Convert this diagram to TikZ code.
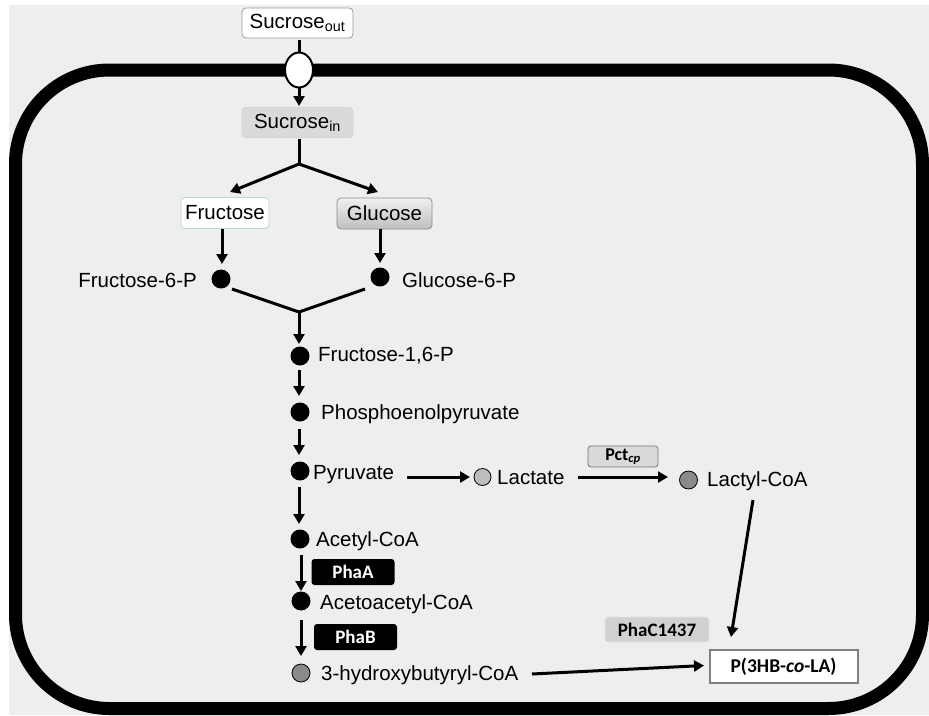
\documentclass[tikz,border=0pt]{standalone}
\usepackage{fontspec}
\setmainfont{Liberation Sans}
\newfontfamily\calfont{Carlito}
\usetikzlibrary{arrows.meta,shapes.geometric}
\definecolor{bg}{HTML}{EEEEEE}
\definecolor{boxgray}{HTML}{DADADA}
\definecolor{lightdot}{HTML}{BDBDBD}
\definecolor{darkdot}{HTML}{8A8A8A}
\definecolor{tealline}{HTML}{BCD6D6}
\begin{document}
\begin{tikzpicture}[x=1pt,y=-1pt,
  lbl/.style={font=\fontsize{20.5}{24}\selectfont, inner sep=0pt, anchor=west},
  dotb/.style={circle, fill=black, minimum size=19pt, inner sep=0pt},
  dotl/.style={circle, draw=black, line width=0.8pt, fill=lightdot, minimum size=17pt, inner sep=0pt},
  dotd/.style={circle, draw=black, line width=0.8pt, fill=darkdot, minimum size=18pt, inner sep=0pt},
  arr/.style={line width=3pt, -{Triangle[length=10pt,width=11pt]}},
  ln/.style={line width=3pt},
  sbox/.style={rounded corners=4pt, minimum height=30pt, inner sep=0pt, font=\fontsize{20.5}{24}\selectfont},
  enz/.style={rounded corners=3pt, inner sep=0pt, font=\calfont\bfseries\fontsize{19}{22}\selectfont},
  blk/.style={enz, fill=black, text=white, minimum width=83pt, minimum height=26pt}
]
\useasboundingbox (0,0) rectangle (929,715);
\begin{scope}
\clip (0,0) rectangle (929,715);
\fill[bg] (9,5) rectangle (929,715);
% membrane
\draw[line width=13pt, rounded corners=94pt] (15.5,70) rectangle (922.5,708.5);
\end{scope}

% sucrose
\node[sbox, draw=gray!80, fill=white, line width=0.8pt, minimum width=111pt] (sout) at (297.5,23) {Sucrose\textsubscript{out}};
\node[sbox, draw=gray!35, fill=boxgray, line width=0.8pt, minimum width=111pt] (sin) at (297.5,122.5) {Sucrose\textsubscript{in}};
\coordinate (tp) at (299,40);
\coordinate (tq) at (299,106);
\draw[arr] (tp) -- (tq);
\node[ellipse, draw=black, fill=white, line width=2pt, minimum width=28pt, minimum height=35pt, inner sep=0pt] (trans) at (299,70) {};

% branch
\coordinate (br) at (299,164);
\draw[ln] (299,139) -- (br);
\node[sbox, draw=tealline, fill=white, line width=0.8pt, minimum width=88pt, minimum height=31pt] (fru) at (225,213) {Fructose};
\node[sbox, draw=gray!90, top color=gray!12, bottom color=gray!50, line width=0.8pt, minimum width=95pt, minimum height=31pt] (glu) at (384.5,213.5) {Glucose};
\draw[arr] (br) -- (230,192);
\draw[arr] (br) -- (378,192);

% 6-P
\node[dotb] (f6p) at (221,279) {};
\node[dotb] (g6p) at (380,277) {};
\node[lbl, anchor=east] (f6pl) at (197,280) {Fructose-6-P};
\node[lbl] (g6pl) at (402,280) {Glucose-6-P};
\draw[arr] (222,229) -- (222,264);
\draw[arr] (380,229) -- (380,263);
\coordinate (j) at (299,312);
\draw[ln] (232,289) -- (j) -- (365,289);

% main chain
\node[dotb] (f16p) at (300,356) {};
\node[lbl] (f16pl) at (318,356) {Fructose-1,6-P};
\node[dotb] (pep) at (300,412) {};
\node[lbl] (pepl) at (321,414) {Phosphoenolpyruvate};
\node[dotb] (pyr) at (300,471) {};
\node[lbl] (pyrl) at (313,475) {Pyruvate};
\node[dotb] (acc) at (300,539) {};
\node[lbl] (accl) at (316,541) {Acetyl-CoA};
\node[dotb] (aac) at (301,601) {};
\node[lbl] (aacl) at (320,604) {Acetoacetyl-CoA};
\node[dotd] (hb) at (301,673) {};
\node[lbl] (hbl) at (321,675) {3-hydroxybutyryl-CoA};

\draw[arr] (j) -- (299,344);
\draw[arr] (299,370) -- (299,396);
\draw[arr] (299,429) -- (299,455);
\draw[arr] (299,487) -- (299,524);
\draw[arr] (301,555) -- (301,591);
\draw[arr] (301,620) -- (301,656);

\node[blk] (phaa) at (353,572) {PhaA};
\node[blk] (phab) at (355.5,637) {PhaB};

% lactate branch
\node[dotl] (lac) at (482.5,477) {};
\node[lbl] (lacl) at (497,478) {Lactate};
\node[dotd] (lcoa) at (688.5,480) {};
\node[lbl] (lcoal) at (707,481) {Lactyl-CoA};
\draw[arr] (407,477) -- (470,477);
\draw[arr] (578,477) -- (668,477);
\node[enz, draw=gray!90!black, fill=boxgray, line width=0.8pt, minimum width=70pt, minimum height=21pt, font=\calfont\bfseries\fontsize{18}{20}\selectfont] (pct) at (623,456.5) {Pct\textsubscript{\itshape cp}};

% polymer
\node[enz, fill=boxgray!90!gray, draw=gray!20, line width=0.6pt, minimum width=104pt, minimum height=25pt] (phac) at (657,629.5) {PhaC1437};
\node[draw=gray, line width=2pt, fill=white, minimum width=148pt, minimum height=33pt, inner sep=0pt, font=\calfont\bfseries\fontsize{19.5}{22}\selectfont] (poly) at (783.5,666.5) {P(3HB-\textit{co}-LA)};
\draw[arr] (753,500) -- (731,637);
\draw[arr] (532,674) -- (704,665.5);
\end{tikzpicture}
\end{document}
